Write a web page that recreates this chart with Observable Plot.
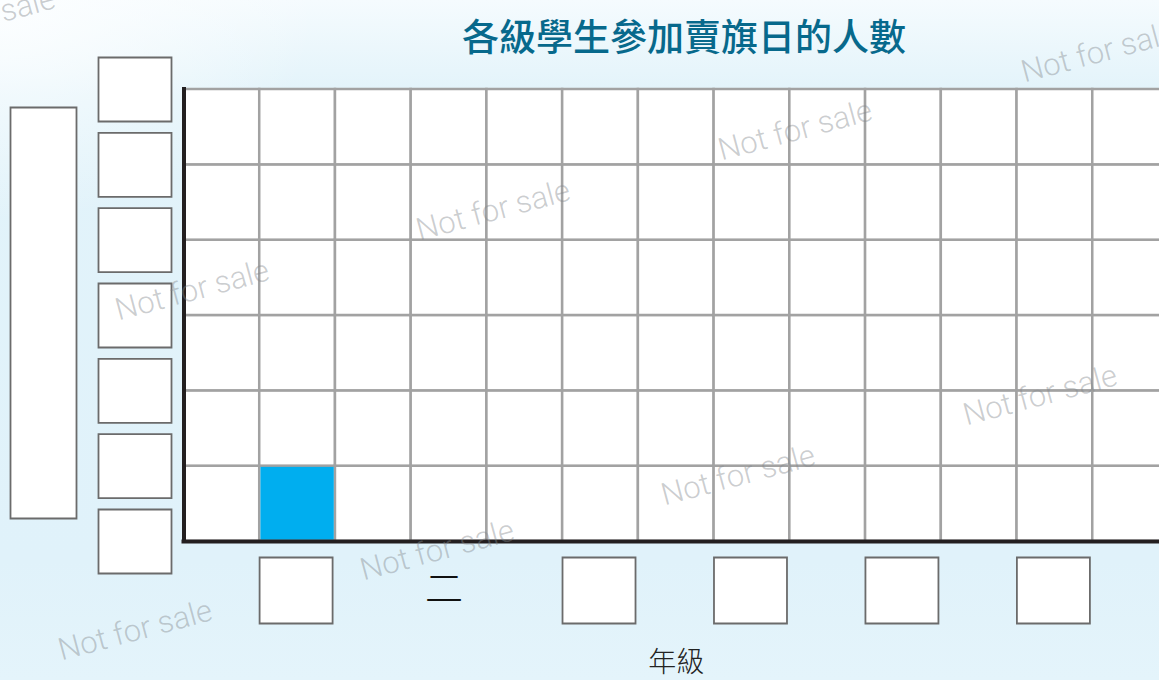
<!DOCTYPE html>
<html>
<head>
<meta charset="utf-8">
<script src="https://cdn.jsdelivr.net/npm/d3@7"></script>
<script src="https://cdn.jsdelivr.net/npm/@observablehq/plot@0.6"></script>
<style>
html, body { margin: 0; padding: 0; width: 1159px; height: 680px; overflow: hidden; }
body {
  position: relative;
  background:
    radial-gradient(ellipse 320px 220px at 0 0, rgba(252,254,255,1) 0%, rgba(252,254,255,0) 100%),
    linear-gradient(to bottom, #f5fbfe 0px, #e2f3fa 95px, #e0f2fa 560px, #e4f4fb 680px);
  font-family: "Noto Sans CJK TC", "Noto Sans", sans-serif;
}
#chart { position: absolute; left: 0; top: 0; }
#title {
  position: absolute; left: 462px; top: 11px; white-space: nowrap;
  font-family: "Noto Sans CJK TC", sans-serif; font-size: 37px; font-weight: 500;
  color: #07698c; letter-spacing: 0; line-height: 48px;
}
.wm {
  position: absolute; white-space: nowrap; pointer-events: none;
  font-family: Roboto, "Liberation Sans", sans-serif; font-weight: 300; font-size: 31px;
  color: rgba(130,135,140,0.42);
  transform: translate(-50%, -50%) rotate(-15deg);
}
</style>
</head>
<body>
<div id="chart"></div>
<div id="title">各級學生參加賣旗日的人數</div>
<div id="wm"></div>
<script>
// ---- data ----
const grades = ["一", "二", "三", "四", "五", "六"];
const gradeLabels = ["", "二", "", "", "", ""];   // blank = answer box
const counts = [1, 0, 0, 0, 0, 0];                 // filled squares per grade
const yTicks = [0, 1, 2, 3, 4, 5, 6];               // all tick labels are blank boxes
const nCols = 13;
const nRows = 6;
const title = "各級學生參加賣旗日的人數";
const xLabel = "年級";
const watermark = "Not for sale";

// ---- derived tables ----
const cells = d3.cross(d3.range(nCols), d3.range(nRows)).map(([c, r]) => ({c, r}));
const gradeRows = grades.map((g, i) => ({grade: g, i, label: gradeLabels[i], value: counts[i]}));
const rectSym = (w, h) => ({draw(ctx) { ctx.rect(-w / 2, -h / 2, w, h); }});

const boxStroke = "#6b6b6b";

const chart = Plot.plot({
  width: 1159,
  height: 680,
  marginLeft: 183.5,
  marginRight: -9,
  marginTop: 89,
  marginBottom: 139,
  x: {domain: [0, nCols], axis: null},
  y: {domain: [0, nRows], axis: null},
  style: {background: "transparent", overflow: "hidden"},
  marks: [
    // grid cells
    Plot.rect(cells, {x1: "c", x2: d => d.c + 1, y1: "r", y2: d => d.r + 1,
      fill: "white", stroke: "#a2a2a2", strokeWidth: 2.5}),
    // bars (filled squares)
    Plot.rect(gradeRows.filter(d => d.value > 0), {
      x1: d => 2 * d.i + 1, x2: d => 2 * d.i + 2, y1: 0, y2: "value",
      fill: "#00aeef", inset: 1.2}),
    // axes
    Plot.ruleX([0], {y1: 0, y2: nRows, stroke: "#231f20", strokeWidth: 4, strokeLinecap: "square"}),
    Plot.ruleY([0], {x1: 0, x2: nCols, stroke: "#231f20", strokeWidth: 4, strokeLinecap: "square"}),
    // y tick label boxes
    Plot.dot(yTicks, {x: 0, y: d => d, r: 1, dx: -49, symbol: rectSym(73, 64),
      fill: "white", stroke: boxStroke, strokeWidth: 1.8}),
    // y axis title box
    Plot.dot([nRows / 2], {x: 0, y: d => d, r: 1, dx: -140.5, dy: -2.5, symbol: rectSym(66, 411),
      fill: "white", stroke: boxStroke, strokeWidth: 1.8}),
    // x tick label boxes
    Plot.dot(gradeRows.filter(d => !d.label), {x: d => 2 * d.i + 1.5, y: 0, r: 1, dx: -1.5, dy: 49,
      symbol: rectSym(73, 66), fill: "white", stroke: boxStroke, strokeWidth: 1.8}),
    // x tick labels given
    Plot.text(gradeRows.filter(d => d.label), {x: d => 2 * d.i + 1.5, y: 0, dx: -5, dy: 48,
      text: "label", fontSize: 38, fontWeight: 300, fill: "#111",
      fontFamily: "Noto Sans CJK TC"}),
    // x axis title
    Plot.text([xLabel], {frameAnchor: "bottom", dy: 130, fontSize: 28, fontWeight: 300,
      fill: "#222", fontFamily: "Noto Sans CJK TC"})
  ]
});
document.getElementById("chart").append(chart);
document.getElementById("title").textContent = title;

// watermarks
const wmCenters = [[-22, 18], [1098, 52], [795, 130], [493, 210], [192, 290],
                   [1040, 395], [738, 475], [437, 550], [135, 630]];
const wm = document.getElementById("wm");
for (const [cx, cy] of wmCenters) {
  const s = document.createElement("div");
  s.className = "wm";
  s.style.left = cx + "px";
  s.style.top = cy + "px";
  s.textContent = watermark;
  wm.append(s);
}
</script>
</body>
</html>
